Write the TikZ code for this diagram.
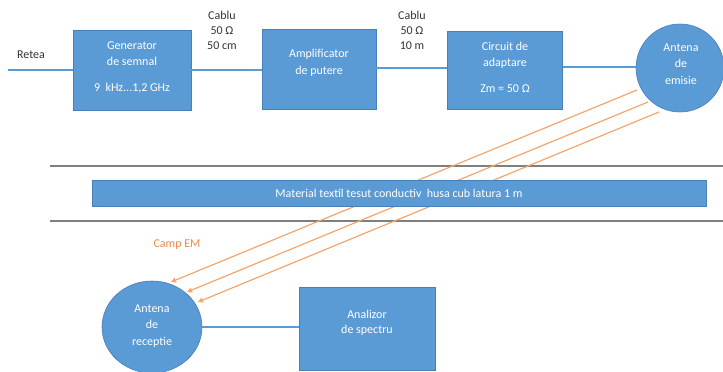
\documentclass[tikz,border=0pt]{standalone}
\usepackage{fontspec}
\setmainfont{Carlito}
\usetikzlibrary{arrows.meta,shapes.geometric}
\definecolor{boxblue}{HTML}{5B9BD5}
\definecolor{boxedge}{HTML}{4A7EBB}
\definecolor{wave}{HTML}{F4A46C}
\definecolor{wavetext}{HTML}{EE8844}
\definecolor{sepgray}{HTML}{7F7F7F}
\tikzset{
  blk/.style={draw=boxedge, line width=0.6pt, fill=boxblue, text=white, align=center,
    font=\fontsize{12}{16}\selectfont, inner sep=0pt},
  wtext/.style={text=white, align=center, inner sep=0pt},
  wire/.style={draw=boxblue, line width=1.2pt},
  lbl/.style={align=center, font=\fontsize{12}{15}\selectfont, text=black!80, inner sep=0pt},
  sep/.style={draw=sepgray, line width=1.4pt},
  emwave/.style={draw=wave, line width=1.2pt, -{Triangle[length=5pt,width=5pt]}},
}
\begin{document}
\begin{tikzpicture}[x=1pt,y=-1pt]
\useasboundingbox (0,0) rectangle (723,372);
% separators
\draw[sep] (50,166) -- (723,166);
\draw[sep] (50,221) -- (723,221);
% top row
\coordinate (mains) at (8,70);
\node[blk, minimum width=118pt, minimum height=80pt] (gen) at (132,70) {};
\node[blk, minimum width=114pt, minimum height=80pt] (amp) at (319,69) {};
\node[blk, minimum width=115pt, minimum height=78pt] (match) at (505,70) {};
\node[blk, circle, minimum size=88pt] (tx) at (680,68) {};
\node[wtext, font=\fontsize{12}{16.5}\selectfont] at (132,67) {Generator\\de semnal\\[9pt]9~ kHz...1,2 GHz};
\node[wtext, font=\fontsize{12}{17}\selectfont] at (319,63) {Amplificator\\de putere};
\node[wtext, font=\fontsize{12}{16.5}\selectfont] at (505,67) {Circuit de\\adaptare\\[9pt]Zm = 50 Ω};
\node[wtext, font=\fontsize{12}{16.5}\selectfont] at (681,64) {Antena\\de\\emisie};
\draw[wire] (mains) -- (gen.west |- mains);
\draw[wire] (gen.east |- 0,70) -- (amp.west |- 0,70);
\draw[wire] (amp.east |- 0,68) -- (match.west |- 0,68);
\draw[wire] (match.east |- 0,67) -- (tx.west |- 0,67);
\node[lbl] (retea) at (31,55) {Retea};
\node[lbl] (c1) at (222,30) {Cablu\\50 Ω\\50 cm};
\node[lbl] (c2) at (412,30) {Cablu\\50 Ω\\10 m};
% EM waves (behind the bar)
\coordinate (s1) at (637,90);
\coordinate (s2) at (648,102);
\coordinate (s3) at (659,112);
\coordinate (e1) at (171,282);
\coordinate (e2) at (187,292);
\coordinate (e3) at (198,302);
\draw[emwave] (s1) -- (e1);
\draw[emwave] (s2) -- (e2);
\draw[emwave] (s3) -- (e3);
% shield bar
\node[blk, minimum width=614pt, minimum height=26pt] (shield) at (399,193)
  {Material textil tesut conductiv~ husa cub latura 1 m};
\node[text=wavetext, font=\fontsize{12}{12}\selectfont, inner sep=0pt] (camp) at (177,245) {Camp EM};
% bottom row
\node[blk, ellipse, minimum width=100pt, minimum height=92pt] (rx) at (152,327) {};
\node[wtext, font=\fontsize{12}{16.5}\selectfont] at (152,326) {Antena\\de\\receptie};
\node[blk, minimum width=136pt, minimum height=83pt] (spec) at (367,329) {};
\node[wtext, font=\fontsize{12}{15}\selectfont] at (367,323) {Analizor\\de spectru};
\draw[wire] (rx.east |- 0,327) -- (spec.west |- 0,327);
\end{tikzpicture}
\end{document}
